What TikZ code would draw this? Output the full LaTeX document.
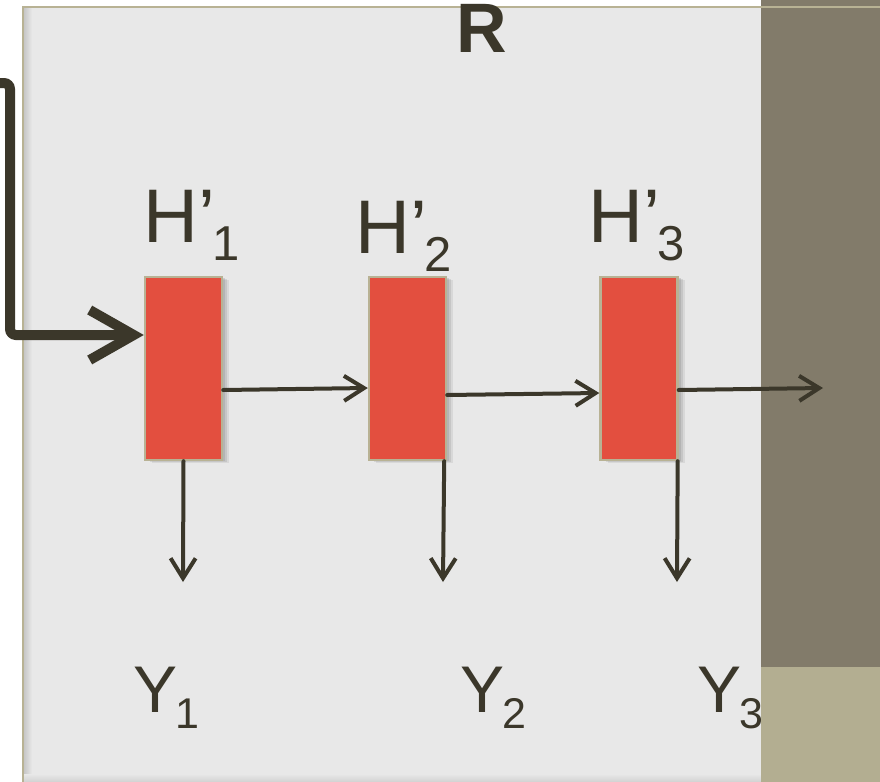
\documentclass[tikz,border=0pt]{standalone}
\usepackage{fontspec}
\setmainfont{Liberation Sans}
\usetikzlibrary{arrows.meta,shadows}
\definecolor{panelgrey}{HTML}{E8E8E8}
\definecolor{bandbrown}{HTML}{827B6A}
\definecolor{bandkhaki}{HTML}{B3AE91}
\definecolor{rimkhaki}{HTML}{B8B294}
\definecolor{cellred}{HTML}{E34F3F}
\definecolor{inkdark}{HTML}{3B372A}

\begin{document}
\begin{tikzpicture}[x=0.5pt, y=-0.5pt,
  cell/.style={draw=rimkhaki, line width=1.2pt, fill=cellred, minimum width=38.5pt, minimum height=91.5pt, inner sep=0pt,
    drop shadow={opacity=0.15, shadow xshift=3.5pt, shadow yshift=-1.5pt},
    drop shadow={opacity=0.2, shadow xshift=2.5pt, shadow yshift=-1pt},
    drop shadow={opacity=0.25, shadow xshift=1.5pt, shadow yshift=-0.5pt}},
  flow/.style={draw=inkdark, line width=2pt, line cap=round, -{Straight Barb[length=10pt,width=12.5pt]}},
  feed/.style={draw=inkdark, line width=5pt, rounded corners=3pt, -{Straight Barb[length=22pt,width=25pt]}},
  lbl/.style={anchor=base west, inner sep=0pt, text=inkdark}]
\useasboundingbox (0,0) rectangle (880,782);
% background panels
\fill[white] (0,0) rectangle (880,782);
\fill[panelgrey] (23,7) rectangle (762,782);
\shade[left color=black!22, right color=panelgrey] (24,7) rectangle (32,782);
\shade[top color=panelgrey, bottom color=black!18] (24,774) rectangle (762,782);
\fill[bandbrown] (761,0) rectangle (880,667);
\fill[bandkhaki] (761,667) rectangle (880,782);
\draw[rimkhaki, line width=1.2pt] (23,790) -- (23,7) -- (880,7);
\node[anchor=base, inner sep=0pt, text height=24.5pt, text depth=0pt, text=inkdark, font=\bfseries\fontsize{35}{35}\selectfont] (title) at (482,52) {R};
% cells
\node[cell] (h1) at (183.5,368.5) {};
\node[cell] (h2) at (407.5,368.5) {};
\node[cell] (h3) at (639,368.5) {};
\node[lbl, font=\fontsize{38}{40}\selectfont] (lh1) at (143,242) {H’\kern-1.5pt\raisebox{-9pt}{\fontsize{24.5}{25}\selectfont 1}};
\node[lbl, font=\fontsize{38}{40}\selectfont] (lh2) at (355,253) {H’\kern-1.5pt\raisebox{-9pt}{\fontsize{24.5}{25}\selectfont 2}};
\node[lbl, font=\fontsize{38}{40}\selectfont] (lh3) at (588,242) {H’\kern-1.5pt\raisebox{-9pt}{\fontsize{24.5}{25}\selectfont 3}};
\node[lbl, font=\fontsize{33}{35}\selectfont] (ly1) at (133,712) {Y\kern-1pt\raisebox{-8pt}{\fontsize{21.5}{22}\selectfont 1}};
\node[lbl, font=\fontsize{33}{35}\selectfont] (ly2) at (460,712) {Y\kern-1pt\raisebox{-8pt}{\fontsize{21.5}{22}\selectfont 2}};
\node[lbl, font=\fontsize{33}{35}\selectfont] (ly3) at (697,712) {Y\kern-1pt\raisebox{-8pt}{\fontsize{21.5}{22}\selectfont 3}};
% connectors
\coordinate (in) at (0,83);
\coordinate (out) at (823,388);
\coordinate (y1) at (183,582);
\coordinate (y2) at (443,582);
\coordinate (y3) at (677,582);
\draw[feed] (in) -| (10,335) -- ([yshift=16.75pt]h1.west);
\draw[flow] ([yshift=-10.75pt]h1.east) -- ([yshift=-9.75pt]h2.west);
\draw[flow] ([yshift=-13.25pt]h2.east) -- ([yshift=-12.25pt]h3.west);
\draw[flow] ([yshift=-10.75pt]h3.east) -- (out);
\draw[flow] (h1.south) -- (y1);
\draw[flow] ([xshift=-1.5pt]h2.south east) -- (y2);
\draw[flow] ([xshift=-0.5pt]h3.south east) -- (y3);
\end{tikzpicture}
\end{document}
